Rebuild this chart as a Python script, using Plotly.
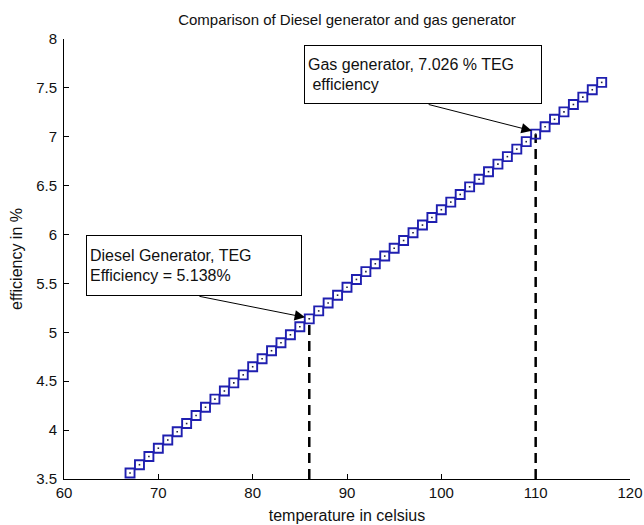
import plotly.graph_objects as go

# ---- data ----
temperature = list(range(67, 118))
efficiency = [3.561, 3.646, 3.730, 3.815, 3.899, 3.983, 4.067, 4.150, 4.234, 4.317,
              4.400, 4.483, 4.565, 4.648, 4.730, 4.812, 4.894, 4.975, 5.057, 5.138,
              5.219, 5.300, 5.380, 5.461, 5.541, 5.621, 5.701, 5.780, 5.860, 5.939,
              6.018, 6.097, 6.175, 6.254, 6.332, 6.410, 6.488, 6.565, 6.643, 6.720,
              6.797, 6.874, 6.950, 7.027, 7.103, 7.179, 7.255, 7.330, 7.406, 7.481,
              7.556]
highlight_x = [86, 110]
highlight_y = [5.138, 7.026]
x_ticks = [60, 70, 80, 90, 100, 110, 120]
y_ticks = [3.5, 4, 4.5, 5, 5.5, 6, 6.5, 7, 7.5, 8]

FONT = "Liberation Sans, Arial, sans-serif"
BLUE = "#1f1fb0"

fig = go.Figure()

# dashed drop lines
for hx, hy in zip(highlight_x, highlight_y):
    fig.add_trace(go.Scatter(x=[hx, hx], y=[y_ticks[0], hy], mode="lines",
                             line=dict(color="black", width=2.5, dash="10px,6px"),
                             hoverinfo="skip", showlegend=False))

fig.add_trace(go.Scatter(x=temperature, y=efficiency, mode="markers",
                         marker=dict(symbol="square-open", size=9,
                                     line=dict(color=BLUE, width=1.9), color=BLUE),
                         showlegend=False))
fig.add_trace(go.Scatter(x=temperature, y=efficiency, mode="markers",
                         marker=dict(symbol="square", size=1.6, color="#202040"),
                         showlegend=False))

# text boxes
fig.add_annotation(x=62.35, y=5.995, xref="x", yref="y", xanchor="left", yanchor="top",
                   text="Diesel Generator, TEG<br>Efficiency = 5.138%",
                   showarrow=False, align="left", valign="middle",
                   width=208, height=53, borderpad=3,
                   bordercolor="black", borderwidth=1, bgcolor="white",
                   font=dict(family=FONT, size=16, color="#111"))
fig.add_annotation(x=85.4, y=7.938, xref="x", yref="y", xanchor="left", yanchor="top",
                   text="Gas generator, 7.026 % TEG<br>&nbsp;efficiency",
                   showarrow=False, align="left", valign="middle",
                   width=230, height=51, borderpad=3,
                   bordercolor="black", borderwidth=1, bgcolor="white",
                   font=dict(family=FONT, size=16, color="#111"))

# arrows
fig.add_annotation(x=highlight_x[0] - 0.44, y=highlight_y[0] + 0.015, xref="x", yref="y",
                   ax=74.2, ay=5.371, axref="x", ayref="y", text="",
                   showarrow=True, arrowhead=2, arrowsize=2.1, arrowwidth=1,
                   arrowcolor="black")
fig.add_annotation(x=highlight_x[1] - 0.4, y=highlight_y[1] + 0.035, xref="x", yref="y",
                   ax=98.5, ay=7.334, axref="x", ayref="y", text="",
                   showarrow=True, arrowhead=2, arrowsize=2.1, arrowwidth=1,
                   arrowcolor="black")

axis_common = dict(showgrid=False, zeroline=False, showline=True, linecolor="black",
                   linewidth=1, ticks="inside", ticklen=5, tickcolor="black",
                   tickwidth=1, mirror=False, automargin=False,
                   tickfont=dict(family=FONT, size=15, color="#111"))

fig.update_layout(
    width=644, height=525,
    margin=dict(l=64, r=14, t=39, b=46),
    paper_bgcolor="white", plot_bgcolor="white",
    title=dict(text="Comparison of Diesel generator and gas generator",
               x=0.5, xref="paper", xanchor="center",
               y=1 - 20 / 525, yref="container", yanchor="middle",
               font=dict(family=FONT, size=15, color="#111")),
    xaxis=dict(range=[x_ticks[0], x_ticks[-1]], tickvals=x_ticks,
               title=dict(text="temperature in celsius", standoff=9,
                          font=dict(family=FONT, size=16, color="#111")),
               **axis_common),
    yaxis=dict(range=[y_ticks[0], y_ticks[-1]], tickvals=y_ticks,
               ticklabelstandoff=3,
               title=dict(text="efficiency in %", standoff=9,
                          font=dict(family=FONT, size=16, color="#111")),
               **axis_common),
)

fig.write_html("out.html")
